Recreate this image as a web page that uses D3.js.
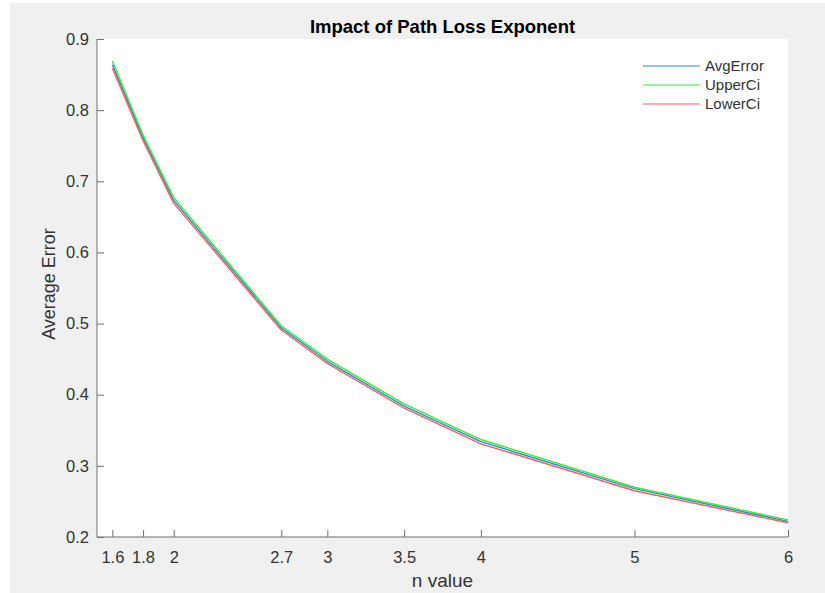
<!DOCTYPE html>
<html>
<head>
<meta charset="utf-8">
<script src="https://cdn.jsdelivr.net/npm/d3@7/dist/d3.min.js"></script>
<style>
  html, body { margin: 0; padding: 0; background: #ffffff; }
  svg { display: block; font-family: "Liberation Sans", Arial, Helvetica, sans-serif; }
</style>
</head>
<body>
<svg id="chart" width="825" height="593"></svg>
<script>
// Path loss exponent values (x) and the error estimates at each one
const nValues = [1.6, 1.8, 2, 2.7, 3, 3.5, 4, 5, 6];
const avgError = [0.864, 0.761, 0.673, 0.494, 0.447, 0.384, 0.334, 0.268, 0.222];
const upperCi  = [0.869, 0.765, 0.677, 0.497, 0.450, 0.387, 0.337, 0.270, 0.224];
const lowerCi  = [0.859, 0.757, 0.669, 0.491, 0.444, 0.381, 0.331, 0.265, 0.220];
const seriesNames = ["AvgError", "UpperCi", "LowerCi"];
const xTicks = [1.6, 1.8, 2, 2.7, 3, 3.5, 4, 5, 6];
const yTicks = [0.2, 0.3, 0.4, 0.5, 0.6, 0.7, 0.8, 0.9];

const colors = ["#2a8bd8", "#33ee33", "#ff5a5a"];
const series = [avgError, upperCi, lowerCi];

const svg = d3.select("#chart");
const W = 825, H = 593;
const plot = { left: 97, right: 788, top: 39, bottom: 537 };

// figure background
svg.append("rect").attr("x", 10).attr("y", 3).attr("width", W - 10).attr("height", H - 3)
  .attr("fill", "#f0f0f0");

// axes background
svg.append("rect")
  .attr("x", plot.left).attr("y", plot.top)
  .attr("width", plot.right - plot.left).attr("height", plot.bottom - plot.top)
  .attr("fill", "#ffffff");

const x = d3.scaleLinear().domain([1.5, 6]).range([plot.left, plot.right]);
const y = d3.scaleLinear().domain([0.2, 0.9]).range([plot.bottom, plot.top]);

const axisColor = "#6e6e6e";
const textColor = "#333333";

// x axis with ticks pointing into the plot
const xAxis = svg.append("g")
  .attr("transform", `translate(0,${plot.bottom})`)
  .call(d3.axisBottom(x).tickValues(xTicks).tickSize(-7).tickPadding(14)
    .tickFormat(d3.format("~g")));
xAxis.select(".domain").attr("stroke", axisColor).attr("d", `M${plot.left},0H${plot.right}`);
xAxis.selectAll(".tick line").attr("stroke", axisColor);
xAxis.selectAll(".tick text").attr("fill", textColor).attr("font-size", 16.5)
  .attr("font-family", "Liberation Sans, Arial, sans-serif");

// y axis with ticks pointing into the plot
const yAxis = svg.append("g")
  .attr("transform", `translate(${plot.left},0)`)
  .call(d3.axisLeft(y).tickValues(yTicks).tickSize(-7).tickPadding(8)
    .tickFormat(d3.format(".1f")));
yAxis.select(".domain").attr("stroke", axisColor).attr("d", `M0,${plot.bottom}V${plot.top}`);
yAxis.selectAll(".tick line").attr("stroke", axisColor);
yAxis.selectAll(".tick text").attr("fill", textColor).attr("font-size", 16.5)
  .attr("font-family", "Liberation Sans, Arial, sans-serif");

// series lines
const line = d3.line().x((d, i) => x(nValues[i])).y(d => y(d));
series.forEach((vals, k) => {
  svg.append("path")
    .datum(vals)
    .attr("d", line)
    .attr("fill", "none")
    .attr("stroke", colors[k])
    .attr("stroke-width", 1.4)
    .attr("stroke-linejoin", "round");
});

// title
svg.append("text")
  .attr("x", (plot.left + plot.right) / 2).attr("y", 33)
  .attr("text-anchor", "middle")
  .attr("font-size", 18.5).attr("font-weight", "bold").attr("fill", "#000")
  .text("Impact of Path Loss Exponent");

// axis labels
svg.append("text")
  .attr("x", (plot.left + plot.right) / 2).attr("y", 587)
  .attr("text-anchor", "middle").attr("font-size", 19).attr("fill", textColor)
  .text("n value");

svg.append("text")
  .attr("transform", `translate(55,284) rotate(-90)`)
  .attr("text-anchor", "middle").attr("font-size", 18).attr("fill", textColor)
  .text("Average Error");

// legend
const legend = svg.append("g");
seriesNames.forEach((name, k) => {
  const ly = 66 + k * 19;
  legend.append("line")
    .attr("x1", 643).attr("x2", 700).attr("y1", ly).attr("y2", ly)
    .attr("stroke", colors[k]).attr("stroke-width", 1.2);
  legend.append("text")
    .attr("x", 705).attr("y", ly + 5)
    .attr("font-size", 15).attr("fill", textColor)
    .text(name);
});
</script>
</body>
</html>
